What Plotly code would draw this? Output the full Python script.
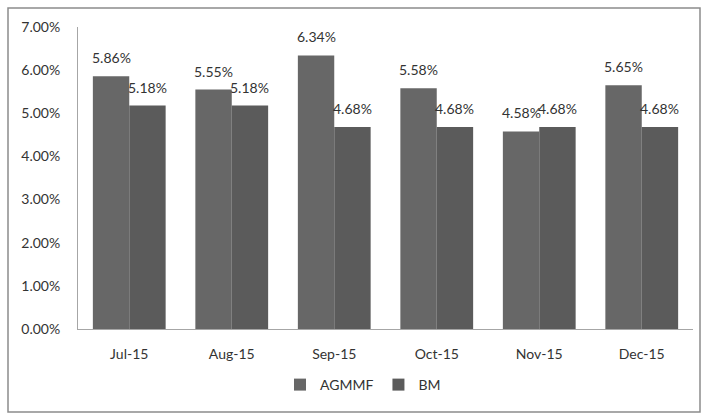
import plotly.graph_objects as go

months = ["Jul-15", "Aug-15", "Sep-15", "Oct-15", "Nov-15", "Dec-15"]
agmmf = [5.86, 5.55, 6.34, 5.58, 4.58, 5.65]
bm = [5.18, 5.18, 4.68, 4.68, 4.68, 4.68]

W, H = 704, 415
L, R, T, B = 78, 11, 27, 86
pw, ph = W - L - R, H - T - B
BARGAP = 0.29

def px_x(p):
    return (p - L) / pw

def px_y(p):
    return (H - B - p) / ph

font = dict(family="Lato, Open Sans, sans-serif", size=14, color="#333333")

fig = go.Figure()
fig.add_trace(go.Bar(
    x=months, y=[v / 100 for v in agmmf], name="AGMMF",
    marker=dict(color="#676767", line=dict(width=0)),
))
fig.add_trace(go.Bar(
    x=months, y=[v / 100 for v in bm], name="BM",
    marker=dict(color="#5b5b5b", line=dict(width=0)),
))

# value labels above bars
cat_px = pw / len(months)
half = (1 - BARGAP) / 4 * cat_px
annotations = []
for series, sign in ((agmmf, -1), (bm, 1)):
    for m, v in zip(months, series):
        annotations.append(dict(
            x=m, y=v / 100, xref="x", yref="y", text=f"{v:.2f}%",
            showarrow=False, yanchor="bottom", xshift=sign * half,
            yshift=8, font=font,
        ))

fig.update_layout(
    width=W, height=H,
    margin=dict(l=L, r=R, t=T, b=B),
    paper_bgcolor="white", plot_bgcolor="white",
    barmode="group", bargap=BARGAP, bargroupgap=0,
    font=font,
    showlegend=True,
    legend=dict(orientation="h", x=px_x(363), xanchor="center",
                y=px_y(385), yanchor="middle", font=font,
                itemwidth=30, traceorder="normal"),
    xaxis=dict(showline=True, linecolor="#a6a6a6", linewidth=1,
               ticks="", showgrid=False, ticklabelstandoff=12),
    yaxis=dict(range=[0, 0.07], dtick=0.01, tickformat=".2%",
               showline=True, linecolor="#a6a6a6", linewidth=1,
               ticks="", showgrid=False, zeroline=False,
               ticklabelstandoff=14),
    annotations=annotations,
    shapes=[dict(type="rect", xref="paper", yref="paper",
                 x0=px_x(8), x1=px_x(700), y0=px_y(412), y1=px_y(8),
                 line=dict(color="#8c8c8c", width=1.5), layer="below")],
)

fig.write_html("out.html")
